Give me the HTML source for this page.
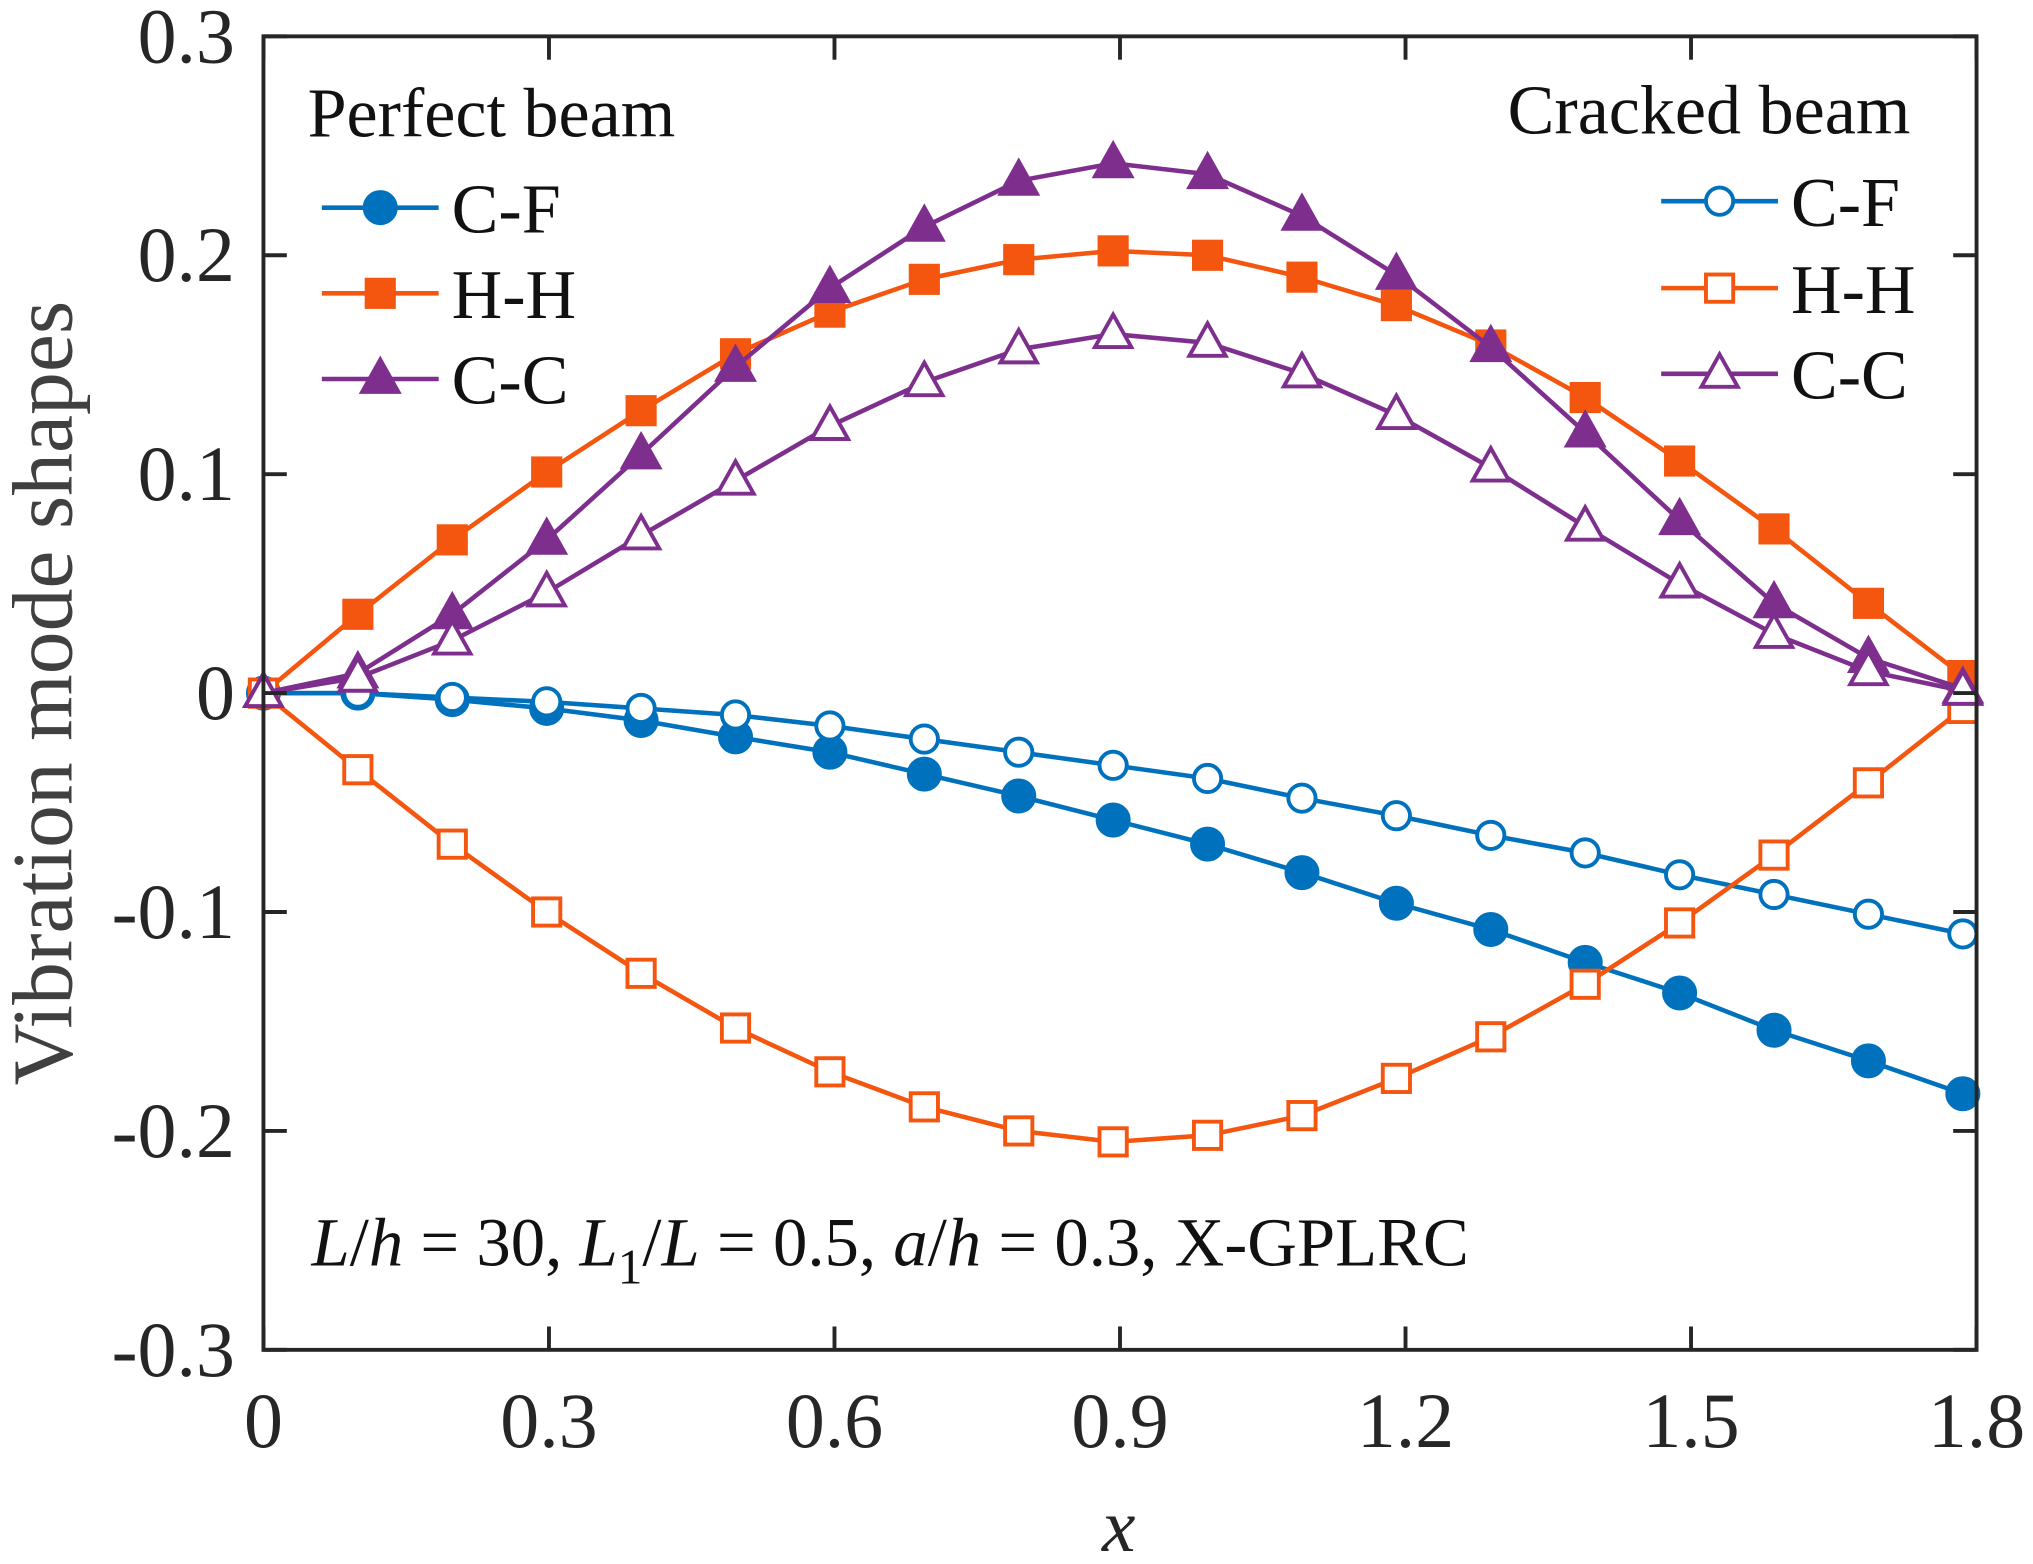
<!DOCTYPE html>
<html><head><meta charset="utf-8"><style>
html,body{margin:0;padding:0;background:#fff;}
svg{display:block;}
text{font-family:"Liberation Serif",serif;}
</style></head><body>
<svg id="chart" width="2033" height="1564" viewBox="0 0 1566.5 1205" preserveAspectRatio="none" xmlns="http://www.w3.org/2000/svg">
<rect x="0" y="0" width="1566.5" height="1205" fill="#fff"/>
<g id="plot"></g>
<g id="axes"></g>
<text x="0" y="0" transform="translate(55,534) rotate(-90)" text-anchor="middle" font-size="66" fill="#404040">Vibration mode shapes</text>
<text x="862" y="1195" text-anchor="middle" font-size="58" font-style="italic" fill="#262626">x</text>
<text x="240" y="975" font-size="53" fill="#111"><tspan font-style="italic">L</tspan>/<tspan font-style="italic">h</tspan> = 30, <tspan font-style="italic">L</tspan><tspan font-size="38" dy="14">1</tspan><tspan dy="-14">/</tspan><tspan font-style="italic">L</tspan> = 0.5, <tspan font-style="italic">a</tspan>/<tspan font-style="italic">h</tspan> = 0.3, X-GPLRC</text>
<text x="237" y="105" font-size="54" fill="#111">Perfect beam</text>
<text x="1472" y="103" text-anchor="end" font-size="54" fill="#111">Cracked beam</text>
<g id="legend"></g>
</svg>
<script>
const xValues = [0,0.0992,0.1984,0.2976,0.3968,0.496,0.5952,0.6944,0.7936,0.8928,0.992,1.0912,1.1904,1.2896,1.3888,1.488,1.5872,1.6864,1.7856];
const perfectCF = [0,0,-0.003,-0.007,-0.0125,-0.020,-0.027,-0.037,-0.047,-0.058,-0.069,-0.082,-0.096,-0.108,-0.123,-0.137,-0.154,-0.168,-0.183];
const crackedCF = [0,0,-0.002,-0.004,-0.007,-0.010,-0.015,-0.021,-0.027,-0.033,-0.039,-0.048,-0.056,-0.065,-0.073,-0.083,-0.092,-0.101,-0.110];
const perfectHH = [0,0.036,0.070,0.101,0.129,0.155,0.174,0.189,0.198,0.202,0.200,0.190,0.177,0.159,0.135,0.106,0.075,0.041,0.008];
const crackedHH = [0,-0.035,-0.069,-0.100,-0.128,-0.153,-0.173,-0.189,-0.200,-0.205,-0.202,-0.193,-0.176,-0.157,-0.133,-0.105,-0.074,-0.041,-0.007];
const perfectCC = [0,0.009,0.036,0.070,0.109,0.149,0.185,0.213,0.234,0.242,0.237,0.218,0.191,0.158,0.119,0.079,0.041,0.016,0.002];
const crackedCC = [0,0.007,0.024,0.046,0.072,0.097,0.122,0.142,0.157,0.164,0.160,0.146,0.127,0.103,0.076,0.050,0.027,0.010,0.001];
const xTicks = [0,0.3,0.6,0.9,1.2,1.5,1.8];
const xTickLabels = ["0","0.3","0.6","0.9","1.2","1.5","1.8"];
const yTicks = [0.3,0.2,0.1,0,-0.1,-0.2,-0.3];
const yTickLabels = ["0.3","0.2","0.1","0","-0.1","-0.2","-0.3"];

const NS="http://www.w3.org/2000/svg";
const L=203,R=1523,T=28,B=1040;
const sx=v=>L+(v-0)/(1.8-0)*(R-L);
const sy=v=>B-(v+0.3)/0.6*(B-T);
const BLUE="#0072BD",ORANGE="#F5560F",PURPLE="#7E2F8E";
function mk(tag,attrs,parent){const e=document.createElementNS(NS,tag);for(const k in attrs)e.setAttribute(k,attrs[k]);parent.appendChild(e);return e;}
function marker(g,shape,cx,cy,color,filled){
  const fill=filled?color:"#fff";
  let e;
  if(shape==="circle") e=mk("circle",{cx:cx,cy:cy,r:filled?12:10.5,fill:fill,stroke:color,"stroke-width":3},g);
  else if(shape==="square") e=mk("rect",{x:cx-10.5,y:cy-10.5,width:21,height:21,fill:fill,stroke:color,"stroke-width":3},g);
  else e=mk("polygon",{points:`${cx},${cy-15} ${cx-14},${cy+10} ${cx+14},${cy+10}`,fill:fill,stroke:color,"stroke-width":3},g);
  return e;
}
const plot=document.getElementById('plot');
const series=[
 {name:"series-perfect-cf",vals:perfectCF,color:BLUE,shape:"circle",filled:true},
 {name:"series-cracked-cf",vals:crackedCF,color:BLUE,shape:"circle",filled:false},
 {name:"series-perfect-hh",vals:perfectHH,color:ORANGE,shape:"square",filled:true},
 {name:"series-cracked-hh",vals:crackedHH,color:ORANGE,shape:"square",filled:false},
 {name:"series-perfect-cc",vals:perfectCC,color:PURPLE,shape:"triangle",filled:true},
 {name:"series-cracked-cc",vals:crackedCC,color:PURPLE,shape:"triangle",filled:false}
];
series.forEach(s=>{
  const g=mk("g",{},plot);
  
  
  const line=mk("polyline",{points:s.vals.map((v,i)=>sx(xValues[i])+","+sy(v)).join(" "),fill:"none",stroke:s.color,"stroke-width":3.5},g);
  
  
  s.vals.forEach((v,i)=>{
    const m=marker(g,s.shape,sx(xValues[i]),sy(v),s.color,s.filled);
    
    
  });
});
const axes=document.getElementById('axes');
const frame=mk("rect",{x:L,y:T,width:R-L,height:B-T,fill:"none",stroke:"#262626","stroke-width":3},axes);


xTicks.forEach((v,i)=>{
  const x=sx(v);
  mk("line",{x1:x,y1:B,x2:x,y2:B-18,stroke:"#262626","stroke-width":3},axes);
  mk("line",{x1:x,y1:T,x2:x,y2:T+18,stroke:"#262626","stroke-width":3},axes);
  const t=mk("text",{x:x,y:B+75,"text-anchor":"middle","font-size":60,fill:"#262626"},axes);
  t.textContent=xTickLabels[i];
  
  
});
yTicks.forEach((v,i)=>{
  const y=sy(v);
  mk("line",{x1:L,y1:y,x2:L+18,y2:y,stroke:"#262626","stroke-width":3},axes);
  mk("line",{x1:R,y1:y,x2:R-18,y2:y,stroke:"#262626","stroke-width":3},axes);
  const t=mk("text",{x:L-22,y:y+20,"text-anchor":"end","font-size":60,fill:"#262626"},axes);
  t.textContent=yTickLabels[i];
  
  
});
const legend=document.getElementById('legend');
const legendItems=[
 {lbl:"C-F",color:BLUE,shape:"circle",filled:true,x0:248,y:160},
 {lbl:"H-H",color:ORANGE,shape:"square",filled:true,x0:248,y:226},
 {lbl:"C-C",color:PURPLE,shape:"triangle",filled:true,x0:248,y:292},
 {lbl:"C-F",color:BLUE,shape:"circle",filled:false,x0:1280,y:155},
 {lbl:"H-H",color:ORANGE,shape:"square",filled:false,x0:1280,y:222},
 {lbl:"C-C",color:PURPLE,shape:"triangle",filled:false,x0:1280,y:288}
];
legendItems.forEach(it=>{
  const g=mk("g",{},legend);
  
  
  mk("line",{x1:it.x0,y1:it.y,x2:it.x0+90,y2:it.y,stroke:it.color,"stroke-width":3.5},g);
  marker(g,it.shape,it.x0+45,it.y,it.color,it.filled);
  const t=mk("text",{x:it.x0+100,y:it.y+19,"font-size":54,fill:"#111"},g);
  t.textContent=it.lbl;
});
</script>
</body></html>
